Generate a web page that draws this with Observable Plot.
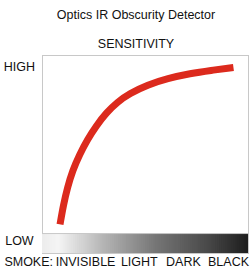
<!DOCTYPE html>
<html>
<head>
<meta charset="utf-8">
<script src="https://cdn.jsdelivr.net/npm/d3@7"></script>
<script src="https://cdn.jsdelivr.net/npm/@observablehq/plot@0.6"></script>
<style>
  html, body { margin: 0; padding: 0; background: #fff; }
  body { width: 250px; height: 270px; position: relative; overflow: hidden; font-family: "Liberation Sans", Arial, sans-serif; }
  .t { position: absolute; left: 22px; width: 228px; text-align: center; font-size: 12.5px; line-height: 15px; color: #111; white-space: nowrap; }
  #chart { position: absolute; left: 0; top: 54px; }
</style>
</head>
<body>
<div class="t" style="top:8px">Optics IR Obscurity Detector</div>
<div class="t" style="top:36.5px">SENSITIVITY</div>
<div id="chart"></div>
<script>
// Sensitivity curve (x: smoke darkness 0-100, y: sensitivity 0-100)
const curveX = [8.5, 10.2, 12.1, 14.6, 18.0, 21.8, 26.2, 31.1, 36.4, 42.2, 51.0, 60.7, 71.8, 81.6, 92.7];
const curveY = [5.1, 16.3, 25.8, 35.4, 44.4, 52.8, 60.7, 68.0, 73.9, 78.6, 83.5, 87.1, 89.9, 91.6, 93.3];

// Smoke scale labels
const smokeTitle = "SMOKE:";
const smokeLabels = ["INVISIBLE", "LIGHT", "DARK", "BLACK"];
const smokeAt = [20.9, 47.0, 68.4, 90.3];

// Sensitivity labels
const levelLabels = ["HIGH", "LOW"];
const levelAt = [93.4, -4.2];

// Gradient stops (darkness position -> gray)
const gradStops = [0, 8, 30, 55, 80, 100];
const gradGrays = ["#ececec", "#f4f4f4", "#b4b4b4", "#767676", "#4a4a4a", "#1d1d1d"];

const curve = curveX.map((x, i) => ({x, y: curveY[i]}));
const bins = d3.range(0, 100, 1).map(v => ({x1: v, x2: Math.min(100, v + 1.6), v: v + 0.5}));
const smoke = smokeLabels.map((label, i) => ({x: smokeAt[i], label}));
const levels = levelLabels.map((label, i) => ({label, y: levelAt[i]}));

const chart = Plot.plot({
  width: 250,
  height: 216,
  marginTop: 1,
  marginBottom: 17,
  marginLeft: 42,
  marginRight: 2,
  x: {domain: [0, 100], axis: null},
  y: {domain: [-11.2, 100], axis: null},
  color: {type: "linear", domain: gradStops, range: gradGrays},
  style: {fontFamily: "'Liberation Sans', Arial, sans-serif", fontSize: "12.5px", color: "#111", background: "#fff"},
  marks: [
    Plot.frame({stroke: "#c8c8c8"}),
    Plot.rect(bins, {x1: "x1", x2: "x2", y1: -11.2, y2: 0, fill: "v"}),
    Plot.ruleY([0], {stroke: "#c8c8c8"}),
    Plot.line(curve, {x: "x", y: "y", stroke: "#dc2a1d", strokeWidth: 7, curve: "basis", strokeLinecap: "butt"}),
    Plot.text(levels, {x: -11.2, y: "y", text: "label", textAnchor: "middle", fill: "#111", fontSize: 12.5}),
    Plot.text([smokeTitle], {x: 5.1, y: -16.1, text: d => d, textAnchor: "end", fill: "#111", fontSize: 12.5}),
    Plot.text(smoke, {x: "x", y: -16.1, text: "label", textAnchor: "middle", fill: "#111", fontSize: 12.5})
  ]
});
document.getElementById("chart").appendChild(chart);
</script>
</body>
</html>
